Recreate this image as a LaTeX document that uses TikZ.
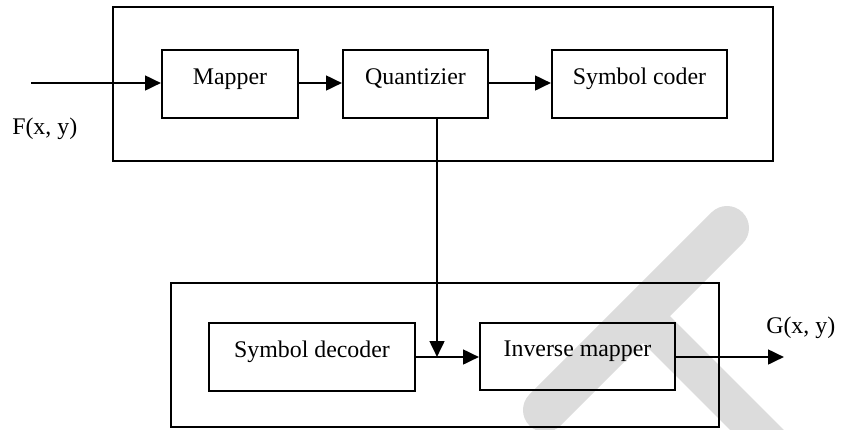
\documentclass[tikz,border=0pt]{standalone}
\usepackage{fontspec}
\setmainfont{Liberation Serif}
\usetikzlibrary{arrows.meta}
\definecolor{markgray}{RGB}{220,220,220}
\begin{document}
\begin{tikzpicture}[x=0.75pt,y=-0.75pt,
  lbl/.style={font=\fontsize{17.9}{21}\selectfont, inner sep=0pt},
  block/.style={draw, line width=1.5pt, rectangle, inner sep=0pt,
    font=\fontsize{17.9}{21}\selectfont, text height=0.66em, text depth=0.6em,
    minimum height=51pt},
  frame/.style={draw, line width=1.5pt, rectangle, inner sep=0pt},
  flow/.style={line width=2pt, -{Triangle[length=12pt,width=11pt]}},
  banda/.style={draw=markgray, line width=33pt, line cap=round},
  bandb/.style={fill=markgray}]
\useasboundingbox (0,0) rectangle (842,429);

% faint background strokes
\path[banda] (727,228) -- (545,410);
\path[bandb] (655.4,301.6) -- (843.4,489.6) -- (816.6,516.4) -- (628.6,328.4) -- cycle;

% encoder and decoder frames
\node[frame, minimum width=495pt, minimum height=115.5pt] (enc) at (443,84) {};
\node[frame, minimum width=411pt, minimum height=108pt] (dec) at (445,355) {};

% processing blocks
\node[block, minimum width=102pt] (map) at (230,84) {Mapper};
\node[block, minimum width=108.75pt] (quant) at (415.5,84) {Quantizier};
\node[block, minimum width=131.25pt] (coder) at (639.5,84) {Symbol coder};
\node[block, minimum width=154.5pt] (sdec) at (312,357) {Symbol decoder};
\node[block, minimum width=146.25pt, minimum height=50.25pt] (imap) at (577.5,356.5) {Inverse mapper};

% signal labels
\node[lbl, anchor=base west] (fin) at (12,134) {F(x, y)};
\node[lbl, anchor=base west] (gout) at (766,333) {G(x, y)};

% free ends and junction
\coordinate (src) at (31,83);
\coordinate (sink) at (784,357);
\coordinate (join) at (437,357);

% connectors
\draw[flow] (src) -- (map.west |- src);
\draw[flow] (map.east |- src) -- (quant.west |- src);
\draw[flow] (quant.east |- src) -- (coder.west |- src);
\draw[flow] (join |- quant.south) -- (join);
\draw[flow] (sdec.east) -- (imap.west |- sdec.east);
\draw[flow] (imap.east |- sdec.east) -- (sink);
\end{tikzpicture}
\end{document}
